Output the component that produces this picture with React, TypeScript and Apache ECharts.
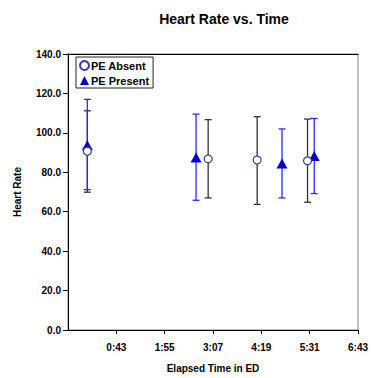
import React, { useEffect, useRef } from "react";
import * as echarts from "echarts";

// times in minutes since arrival
const absentTime = [0, 180, 253, 328];
const absentMean = [90.7, 86.8, 86.2, 85.8];
const absentLow = [69.9, 67.0, 63.7, 64.8];
const absentHigh = [111.2, 106.7, 108.2, 107.0];

const presentTime = [0, 162, 290, 338];
const presentMean = [93.7, 87.5, 84.5, 88.2];
const presentLow = [71.2, 65.8, 67.0, 69.2];
const presentHigh = [117.0, 109.5, 102.0, 107.3];

const xMin = -28.8;
const xMax = 403.2;
const xStep = 72;
const yTicks = [0, 20, 40, 60, 80, 100, 120, 140];

const fmtTime = (v: number) => {
  const m = Math.round(v);
  const h = Math.floor(m / 60);
  const mm = m % 60;
  return h + ":" + (mm < 10 ? "0" : "") + mm;
};

const errRender = (color: string) => (params: any, api: any) => {
  const x = api.value(0);
  const lo = api.coord([x, api.value(1)]);
  const hi = api.coord([x, api.value(2)]);
  const cap = 3.5;
  const style = { stroke: color, lineWidth: 1.3 };
  return {
    type: "group",
    children: [
      { type: "line", shape: { x1: lo[0], y1: lo[1], x2: hi[0], y2: hi[1] }, style },
      { type: "line", shape: { x1: lo[0] - cap, y1: lo[1], x2: lo[0] + cap, y2: lo[1] }, style },
      { type: "line", shape: { x1: hi[0] - cap, y1: hi[1], x2: hi[0] + cap, y2: hi[1] }, style },
    ],
  };
};

export default function App() {
  const ref = useRef<HTMLDivElement>(null);
  useEffect(() => {
    if (!ref.current) return;
    const chart = echarts.init(ref.current, undefined, { renderer: "svg" });
    const font = "Liberation Sans, Arial, sans-serif";
    chart.setOption({
      animation: false,
      backgroundColor: "#fff",
      textStyle: { fontFamily: font },
      title: {
        text: "Heart Rate vs. Time",
        left: 219,
        top: 7,
        textAlign: "center",
        textStyle: { fontSize: 14, fontWeight: "bold", color: "#000", fontFamily: font },
      },
      legend: {
        orient: "vertical",
        left: 76,
        top: 57,
        data: ["PE Absent", "PE Present"],
        borderColor: "#222",
        borderWidth: 1,
        padding: [3, 4, 2, 3],
        itemGap: 4,
        itemWidth: 9,
        itemHeight: 9,
        backgroundColor: "#fff",
        textStyle: { fontSize: 11, fontWeight: "bold", color: "#000", fontFamily: font, padding: [0, 0, 0, -3] },
      },
      grid: {
        left: 68,
        right: 10,
        top: 54,
        bottom: 44,
        show: true,
        borderColor: "#808080",
        borderWidth: 1,
      },
      xAxis: [
        {
          type: "value",
          min: xMin,
          max: xMax,
          interval: xStep,
          name: "Elapsed Time in ED",
          nameLocation: "middle",
          nameGap: 33,
          nameTextStyle: { fontSize: 10, fontWeight: "bold", color: "#000", fontFamily: font },
          splitLine: { show: false },
          axisLine: { onZero: false, lineStyle: { color: "#000", width: 1 } },
          axisTick: { length: 4, lineStyle: { color: "#000" } },
          axisLabel: {
            showMinLabel: false,
            formatter: (v: number) => fmtTime(v),
            fontSize: 10,
            fontWeight: "bold",
            color: "#000",
            margin: 12,
            fontFamily: font,
          },
        },
        {
          type: "value",
          position: "top",
          min: xMin,
          max: xMax,
          axisLine: { show: true, onZero: false, lineStyle: { color: "#000", width: 1 } },
          axisTick: { show: false },
          axisLabel: { show: false },
          splitLine: { show: false },
        },
      ],
      yAxis: {
        type: "value",
        min: yTicks[0],
        max: yTicks[yTicks.length - 1],
        interval: 20,
        name: "Heart Rate",
        nameLocation: "middle",
        nameGap: 46,
        nameTextStyle: { fontSize: 10, fontWeight: "bold", color: "#000", fontFamily: font },
        splitLine: { show: false },
        axisLine: { show: true, onZero: false, lineStyle: { color: "#000", width: 1 } },
        axisTick: { show: true, length: 5, lineStyle: { color: "#000" } },
        axisLabel: {
          formatter: (v: number) => v.toFixed(1),
          fontSize: 10,
          fontWeight: "bold",
          color: "#000",
          margin: 7,
          fontFamily: font,
        },
      },
      series: [
        {
          type: "custom",
          name: "absErr",
          renderItem: errRender("#333333"),
          data: absentTime.map((t, i) => [t, absentLow[i], absentHigh[i]]),
          encode: { x: 0, y: [1, 2] },
          z: 1,
        },
        {
          type: "custom",
          name: "presErr",
          renderItem: errRender("#2a2aff"),
          data: presentTime.map((t, i) => [t, presentLow[i], presentHigh[i]]),
          encode: { x: 0, y: [1, 2] },
          z: 2,
        },
        {
          type: "scatter",
          name: "PE Present",
          symbol: "triangle",
          symbolSize: [11, 10],
          itemStyle: { color: "#0000c8", opacity: 1 },
          data: presentTime.map((t, i) => [t, presentMean[i]]),
          z: 3,
        },
        {
          type: "scatter",
          name: "PE Absent",
          symbol: "circle",
          symbolSize: 8,
          itemStyle: { color: "#ffffff", borderColor: "#3c3c96", borderWidth: 1.2, opacity: 1 },
          data: absentTime.map((t, i) => [t, absentMean[i]]),
          z: 4,
        },
      ],
    });
    return () => chart.dispose();
  }, []);
  return <div ref={ref} style={{ position: "absolute", left: 0, top: 0, width: 371, height: 378 }} />;
}
